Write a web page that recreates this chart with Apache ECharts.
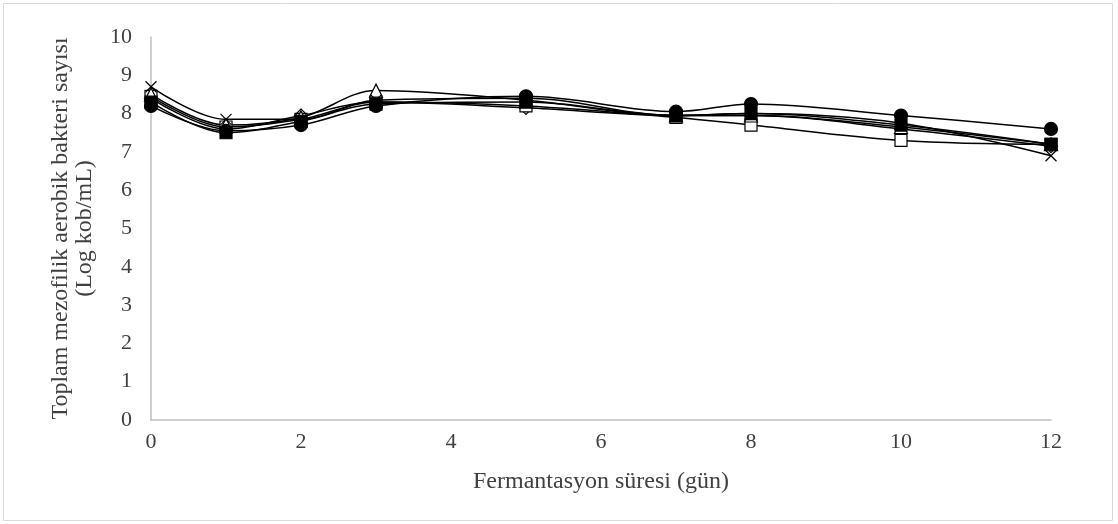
<!DOCTYPE html>
<html>
<head>
<meta charset="utf-8">
<script src="https://cdn.jsdelivr.net/npm/echarts@6/dist/echarts.min.js"></script>
<style>
  html, body { margin: 0; padding: 0; background: #fff; }
  #chart { width: 1118px; height: 524px; }
</style>
</head>
<body>
<div id="chart"></div>
<script>
// fermentation days
var days = [0, 1, 2, 3, 5, 7, 8, 10, 12];

// log kob/mL per sample (one array per marker)
var diamondVals  = [8.40, 7.60, 7.95, 8.30, 8.15, 7.95, 7.95, 7.60, 7.15];
var fSquareVals  = [8.30, 7.50, 7.80, 8.25, 8.30, 7.95, 8.00, 7.70, 7.20];
var triangleVals = [8.50, 7.70, 7.90, 8.60, 8.35, 7.95, 7.95, 7.65, 7.20];
var crossVals    = [8.70, 7.85, 7.85, 8.35, 8.40, 7.95, 8.00, 7.75, 6.90];
var oSquareVals  = [8.45, 7.65, 7.85, 8.30, 8.20, 7.90, 7.70, 7.30, 7.20];
var circleVals   = [8.20, 7.55, 7.70, 8.20, 8.45, 8.05, 8.25, 7.95, 7.60];

var xTicks = [0, 2, 4, 6, 8, 10, 12];
var yTicks = [0, 1, 2, 3, 4, 5, 6, 7, 8, 9, 10];

var chart = echarts.init(document.getElementById('chart'));

function pairs(vals) {
    var out = [];
    for (var i = 0; i < days.length; i++) {
        out.push([days[i], vals[i]]);
    }
    return out;
}

function mkSeries(name, vals, symbol, size, fill) {
    return {
        name: name,
        type: 'line',
        data: pairs(vals),
        smooth: 0.35,
        symbol: symbol,
        symbolSize: size,
        showAllSymbol: true,
        lineStyle: { color: '#000', width: 1.5 },
        itemStyle: { color: fill, borderColor: '#000', borderWidth: 1.2 },
        z: 3
    };
}

var crossPath = 'path://M0,0L10,10M10,0L0,10';
var labelFont = 'Liberation Serif, Times New Roman, serif';

var option = {
    animation: false,
    backgroundColor: '#fff',
    grid: { left: 151, right: 67, top: 37, bottom: 104, containLabel: false },
    xAxis: {
        type: 'value',
        min: 0, max: 12, interval: 2,
        name: 'Fermantasyon süresi (gün)',
        nameLocation: 'middle',
        nameGap: 50,
        nameTextStyle: { fontFamily: labelFont, fontSize: 24, color: '#404040' },
        axisLine: { show: true, lineStyle: { color: '#bfbfbf', width: 1.5 } },
        axisTick: { show: false },
        splitLine: { show: false },
        axisLabel: {
            fontFamily: labelFont, fontSize: 22, color: '#404040', margin: 11,
            formatter: function (v) { return xTicks.indexOf(v) >= 0 ? v : ''; }
        }
    },
    yAxis: {
        type: 'value',
        min: 0, max: 10, interval: 1,
        name: 'Toplam mezofilik aerobik bakteri sayısı\n(Log kob/mL)',
        nameLocation: 'middle',
        nameGap: 54,
        nameRotate: 90,
        nameTextStyle: { fontFamily: labelFont, fontSize: 24, color: '#404040', lineHeight: 24 },
        axisLine: { show: true, lineStyle: { color: '#bfbfbf', width: 1.5 } },
        axisTick: { show: false },
        splitLine: { show: false },
        axisLabel: {
            fontFamily: labelFont, fontSize: 22, color: '#404040', margin: 19,
            formatter: function (v) { return yTicks.indexOf(v) >= 0 ? v : ''; }
        }
    },
    graphic: [{
        type: 'rect',
        shape: { x: 3.5, y: 3.5, width: 1109, height: 517 },
        style: { fill: 'none', stroke: '#d9d9d9', lineWidth: 1 },
        silent: true
    }],
    series: [
        mkSeries('◇', diamondVals, 'diamond', 13, '#fff'),
        mkSeries('□', oSquareVals, 'rect', 12, '#fff'),
        mkSeries('△', triangleVals, 'triangle', 13, '#fff'),
        mkSeries('×', crossVals, crossPath, 11, 'none'),
        mkSeries('■', fSquareVals, 'rect', 12, '#000'),
        mkSeries('●', circleVals, 'circle', 13, '#000')
    ]
};

chart.setOption(option);
</script>
</body>
</html>
